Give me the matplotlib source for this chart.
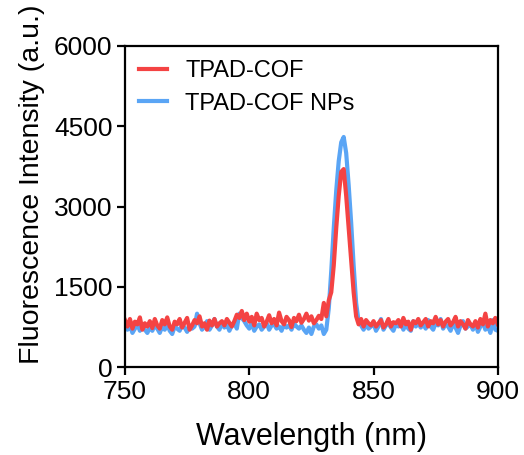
import numpy as np
import matplotlib.pyplot as plt

# wavelength grid (nm), one point per nm
wavelength = np.arange(750, 901, 1)

tpad_cof = [
    880, 760, 900, 720, 850, 800, 930, 700, 820, 760,
    860, 730, 900, 780, 720, 880, 800, 930, 760, 700,
    850, 800, 900, 740, 830, 920, 700, 780, 880, 820,
    950, 760, 820, 700, 870, 780, 900, 760, 820, 860,
    780, 900, 830, 760, 860, 980, 920, 1050, 880, 1000,
    850, 940, 780, 1000, 880, 920, 760, 850, 970, 820,
    900, 780, 1020, 860, 800, 940, 880, 750, 920, 860,
    980, 830, 900, 1000, 870, 950, 820, 880, 960, 900,
    1200, 950, 1250, 1400, 1900, 2600, 3200, 3650, 3700, 3200,
    2600, 2000, 1400, 950, 800, 900, 760, 880, 820, 780,
    860, 760, 820, 880, 740, 800, 900, 760, 840, 820,
    880, 760, 920, 800, 850, 700, 860, 820, 900, 780,
    840, 900, 760, 860, 820, 940, 800, 880, 760, 850,
    900, 780, 840, 940, 760, 860, 800, 720, 880, 800,
    760, 860, 740, 900, 800, 1000, 760, 880, 820, 920,
    800,
]

tpad_cof_nps = [
    820, 700, 780, 640, 720, 800, 680, 760, 700, 640,
    740, 680, 780, 720, 640, 760, 700, 800, 680, 620,
    760, 720, 680, 800, 740, 660, 780, 720, 760, 1000,
    820, 700, 760, 860, 700, 780, 900, 760, 700, 820,
    740, 800, 680, 780, 840, 720, 1000, 920, 860, 780,
    720, 820, 680, 760, 800, 700, 760, 820, 700, 780,
    800, 720, 760, 680, 800, 740, 780, 700, 820, 760,
    720, 780, 700, 640, 740, 620, 760, 800, 720, 780,
    620, 700, 1100, 1800, 2600, 3300, 3850, 4200, 4300, 4000,
    3400, 2700, 1900, 1200, 850, 780, 700, 800, 720, 760,
    820, 680, 760, 900, 700, 780, 820, 740, 680, 800,
    760, 840, 700, 800, 720, 680, 860, 760, 820, 740,
    800, 720, 880, 760, 700, 820, 780, 900, 720, 800,
    760, 680, 820, 740, 640, 780, 860, 720, 760, 800,
    700, 820, 660, 760, 840, 700, 780, 640, 880, 700,
    680,
]


def main():
    plt.rcParams['font.family'] = ['Liberation Sans', 'DejaVu Sans']

    fig = plt.figure(figsize=(5.24, 4.55), dpi=100)
    ax = fig.add_axes([0.2385, 0.193, 0.7115, 0.706])

    # blue first so the red line sits on top
    l_blue, = ax.plot(wavelength, tpad_cof_nps, color='#5AA5F5', lw=3,
                      label='TPAD-COF NPs')
    l_red, = ax.plot(wavelength, tpad_cof, color='#F44343', lw=3,
                     label='TPAD-COF')

    ax.set_xlim(750, 900)
    ax.set_ylim(0, 6000)
    ax.set_xticks([750, 800, 850, 900])
    ax.set_yticks([0, 1500, 3000, 4500, 6000])

    for s in ax.spines.values():
        s.set_linewidth(1.6)
    ax.tick_params(direction='out', length=6, width=1.6, labelsize=19, pad=3)

    ax.set_xlabel('Wavelength (nm)', fontsize=22, labelpad=13)
    ax.set_ylabel('Fluorescence Intensity (a.u.)', fontsize=20.5)
    ax.yaxis.set_label_coords(-0.215, 0.57)

    ax.legend(handles=[l_red, l_blue], loc='upper left', frameon=False,
              fontsize=17, handlelength=1.2, handletextpad=0.75,
              borderaxespad=0.3, borderpad=0.3, labelspacing=0.45)

    fig.savefig('out.png', dpi=100)


if __name__ == "__main__":
    main()
